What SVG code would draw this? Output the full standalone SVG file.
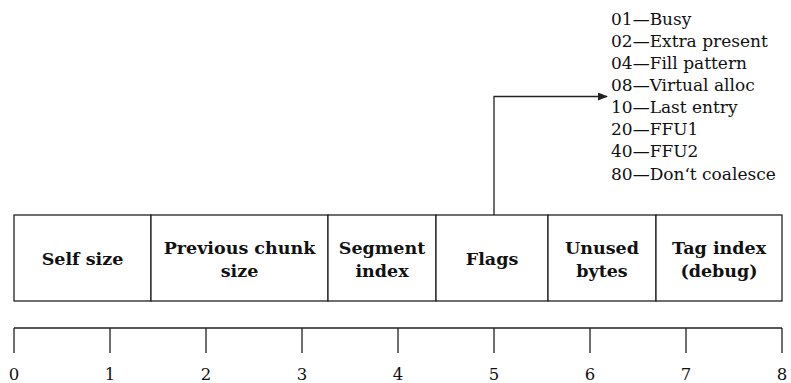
<svg xmlns="http://www.w3.org/2000/svg" width="791" height="383" viewBox="0 0 791 383">
<defs>
<style>
.ln{stroke:#222;stroke-width:1.3;fill:none}
.cell{fill:#fff;stroke:#222;stroke-width:1.3}
.lbl{font-family:"DejaVu Serif","Liberation Serif",serif;font-weight:bold;font-size:17.5px;fill:#111;text-anchor:middle}
.flag{font-family:"DejaVu Serif","Liberation Serif",serif;font-size:17px;fill:#111}
.num{font-family:"DejaVu Serif","Liberation Serif",serif;font-size:16.5px;fill:#111;text-anchor:middle}
</style>
<marker id="ah" markerWidth="10" markerHeight="8" refX="9" refY="4" orient="auto" markerUnits="userSpaceOnUse">
<path d="M0,0 L10,4 L0,8 Z" fill="#222"/>
</marker>
</defs>
<rect width="791" height="383" fill="#fff"/>
<g id="connectors">
<path class="ln" d="M494,215 V96.5 H607" marker-end="url(#ah)"/>
</g>
<g id="cell-self-size"><rect class="cell" x="14" y="215" width="137" height="86"/><text class="lbl" x="82.5" y="265">Self size</text></g>
<g id="cell-prev-size"><rect class="cell" x="151" y="215" width="177" height="86"/><text class="lbl" x="239.5" y="254">Previous chunk</text><text class="lbl" x="239.5" y="277">size</text></g>
<g id="cell-segment"><rect class="cell" x="328" y="215" width="108" height="86"/><text class="lbl" x="382" y="254">Segment</text><text class="lbl" x="382" y="277">index</text></g>
<g id="cell-flags"><rect class="cell" x="436" y="215" width="112" height="86"/><text class="lbl" x="492" y="265">Flags</text></g>
<g id="cell-unused"><rect class="cell" x="548" y="215" width="108" height="86"/><text class="lbl" x="602" y="254">Unused</text><text class="lbl" x="602" y="277">bytes</text></g>
<g id="cell-tag"><rect class="cell" x="656" y="215" width="126" height="86"/><text class="lbl" x="719" y="254">Tag index</text><text class="lbl" x="719" y="277">(debug)</text></g>
<g id="flags-list">
<text class="flag" x="611" y="25">01—Busy</text>
<text class="flag" x="611" y="47">02—Extra present</text>
<text class="flag" x="611" y="69">04—Fill pattern</text>
<text class="flag" x="611" y="91">08—Virtual alloc</text>
<text class="flag" x="611" y="113">10—Last entry</text>
<text class="flag" x="611" y="135">20—FFU1</text>
<text class="flag" x="611" y="157">40—FFU2</text>
<text class="flag" x="611" y="180">80—Don‘t coalesce</text>
</g>
<g id="ruler">
<path class="ln" d="M14,328 H782 M14,328 V353 M110,328 V353 M206,328 V353 M302,328 V353 M398,328 V353 M494,328 V353 M590,328 V353 M686,328 V353 M782,328 V353"/>
<text class="num" x="14" y="380">0</text>
<text class="num" x="110" y="380">1</text>
<text class="num" x="206" y="380">2</text>
<text class="num" x="302" y="380">3</text>
<text class="num" x="398" y="380">4</text>
<text class="num" x="494" y="380">5</text>
<text class="num" x="590" y="380">6</text>
<text class="num" x="686" y="380">7</text>
<text class="num" x="782" y="380">8</text>
</g>
</svg>
